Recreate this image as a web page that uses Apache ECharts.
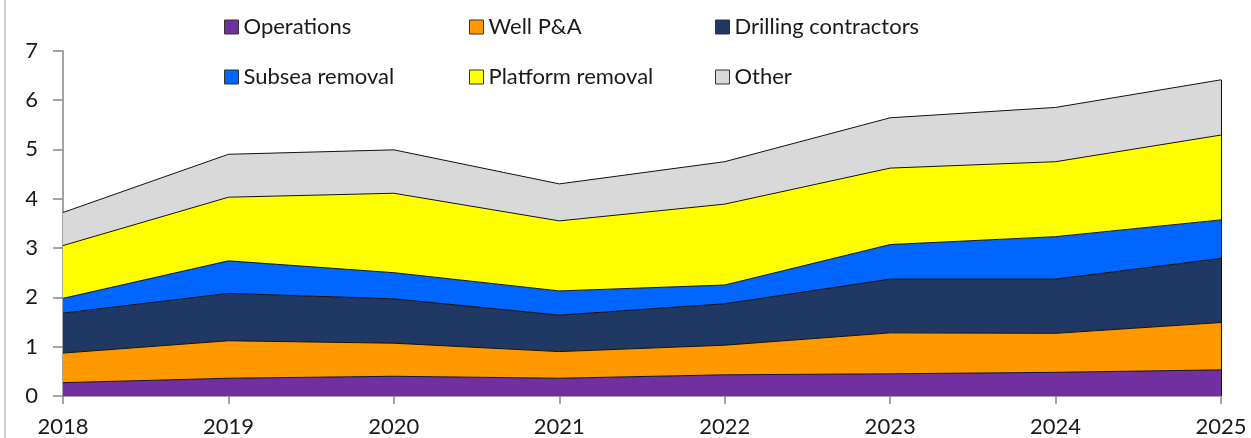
<!DOCTYPE html>
<html>
<head>
<meta charset="utf-8">
<script src="https://cdn.jsdelivr.net/npm/echarts@6/dist/echarts.min.js"></script>
<style>
  html, body { margin: 0; padding: 0; background: #fff; }
  #chart { width: 1251px; height: 438px; }
</style>
</head>
<body>
<div id="chart"></div>
<script>
// Decommissioning spend by segment, stacked per year
const years = ['2018', '2019', '2020', '2021', '2022', '2023', '2024', '2025'];
const operations  = [0.27, 0.36, 0.40, 0.36, 0.43, 0.45, 0.48, 0.53];
const wellPA      = [0.60, 0.76, 0.67, 0.54, 0.60, 0.83, 0.79, 0.96];
const drilling    = [0.81, 0.96, 0.90, 0.74, 0.84, 1.09, 1.10, 1.30];
const subsea      = [0.30, 0.66, 0.53, 0.49, 0.38, 0.70, 0.86, 0.78];
const platform    = [1.07, 1.29, 1.61, 1.42, 1.64, 1.55, 1.52, 1.72];
const other       = [0.67, 0.87, 0.88, 0.75, 0.86, 1.02, 1.10, 1.12];
const yTicks = [0, 1, 2, 3, 4, 5, 6, 7];

const seriesDefs = [
  { name: 'Operations',           data: operations, color: '#7030A0' },
  { name: 'Well P&A',             data: wellPA,     color: '#FF9900' },
  { name: 'Drilling contractors', data: drilling,   color: '#203864' },
  { name: 'Subsea removal',       data: subsea,     color: '#0066FF' },
  { name: 'Platform removal',     data: platform,   color: '#FFFF00' },
  { name: 'Other',                data: other,      color: '#D9D9D9' }
];

const FONT = 'Lato';
const textColor = '#1a1a1a';

// stacked total in the last year, used to close the right edge of the stack
const lastIdx = years.length - 1;
const lastTotal = seriesDefs.reduce((sum, s) => sum + s.data[lastIdx], 0);

// legend laid out as a 3 x 2 grid
const legendCols = [224, 469, 715];
const legendRows = [16, 66];
const legends = seriesDefs.map((s, i) => ({
  data: [s.name],
  left: legendCols[i % 3],
  top: legendRows[Math.floor(i / 3)],
  padding: 0,
  itemWidth: 14,
  itemHeight: 14,
  itemGap: 0,
  icon: 'rect',
  selectedMode: false,
  itemStyle: { borderColor: '#333', borderWidth: 1 },
  textStyle: { fontFamily: FONT, fontSize: 22, color: textColor, lineHeight: 22, padding: [0, 0, 0, 0] }
}));

const chart = echarts.init(document.getElementById('chart'), null, { renderer: 'canvas' });
chart.setOption({
  animation: false,
  backgroundColor: '#fff',
  legend: legends,
  grid: { left: 63, right: 30, top: 50.7, bottom: 42, containLabel: false },
  xAxis: {
    type: 'category',
    data: years,
    boundaryGap: false,
    axisLine: { lineStyle: { color: '#868686', width: 1.5 } },
    axisTick: { alignWithLabel: true, length: 8, lineStyle: { color: '#868686', width: 1.5 } },
    axisLabel: { fontFamily: FONT, fontSize: 22, color: textColor, margin: 20 },
    splitLine: { show: false }
  },
  yAxis: {
    type: 'value',
    min: yTicks[0],
    max: yTicks[yTicks.length - 1],
    interval: 1,
    axisLine: { show: true, lineStyle: { color: '#868686', width: 1.5 } },
    axisTick: { show: true, length: 10, lineStyle: { color: '#868686', width: 1.5 } },
    axisLabel: { fontFamily: FONT, fontSize: 22, color: textColor, margin: 25 },
    splitLine: { show: false }
  },
  series: seriesDefs.map((s, i) => {
    const ser = {
      name: s.name,
      type: 'line',
      stack: 'total',
      data: s.data,
      symbol: 'none',
      color: s.color,
      lineStyle: { color: '#111', width: 1 },
      areaStyle: { color: s.color, opacity: 1 },
      itemStyle: { color: s.color }
    };
    if (i === seriesDefs.length - 1) {
      ser.markLine = {
        silent: true,
        symbol: 'none',
        label: { show: false },
        lineStyle: { color: '#111', width: 1, type: 'solid' },
        data: [[{ coord: [years[lastIdx], 0] }, { coord: [years[lastIdx], lastTotal] }]]
      };
    }
    return ser;
  }),
  graphic: [
    { type: 'line', shape: { x1: 5, y1: 0, x2: 5, y2: 438 }, style: { stroke: '#d0d0d0', lineWidth: 2 } }
  ]
});
</script>
</body>
</html>
